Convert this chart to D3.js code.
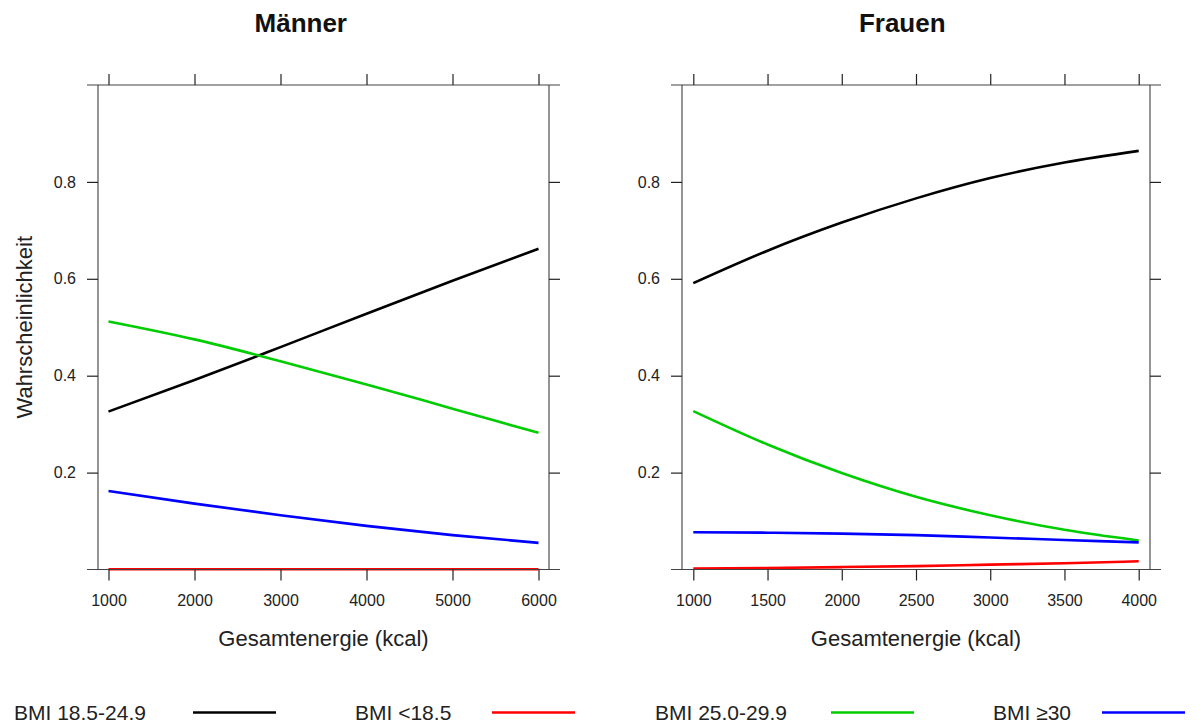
<!DOCTYPE html>
<html><head><meta charset="utf-8">
<script src="https://cdn.jsdelivr.net/npm/d3@7"></script>
<style>body{margin:0;background:#fff;} svg{font-family:"Liberation Sans",Arial,sans-serif;}</style>
</head><body>
<svg id="c" width="1203" height="727"></svg>
<script>
// ---- data ----
const panelTitles = ["Männer", "Frauen"];
const seriesNames = ["BMI 18.5-24.9", "BMI <18.5", "BMI 25.0-29.9", "BMI \u226530"];
const seriesColors = ["#000000", "#ff0000", "#00cd00", "#0000ff"];

const menX = [1000, 2000, 3000, 4000, 5000, 6000];
const menNormal = [0.326, 0.391, 0.459, 0.528, 0.596, 0.662];
const menUnder = [0.0005, 0.0005, 0.0005, 0.0005, 0.0005, 0.0005];
const menOver = [0.512, 0.475, 0.430, 0.382, 0.332, 0.282];
const menObese = [0.162, 0.136, 0.112, 0.090, 0.071, 0.055];

const womenX = [1000, 1500, 2000, 2500, 3000, 3500, 4000];
const womenNormal = [0.591, 0.658, 0.716, 0.766, 0.808, 0.840, 0.864];
const womenUnder = [0.002, 0.003, 0.005, 0.007, 0.010, 0.013, 0.017];
const womenOver = [0.327, 0.258, 0.199, 0.150, 0.112, 0.082, 0.060];
const womenObese = [0.077, 0.076, 0.074, 0.071, 0.066, 0.061, 0.056];

const menTicks = [1000, 2000, 3000, 4000, 5000, 6000];
const womenTicks = [1000, 1500, 2000, 2500, 3000, 3500, 4000];
const yTicks = [0.2, 0.4, 0.6, 0.8];
const xLabel = "Gesamtenergie (kcal)";
const yLabel = "Wahrscheinlichkeit";

// ---- layout ----
const W = 1203;
const svg = d3.select("#c");
const yTop = 85, yBottom = 569.5;
const panels = [
  {title: panelTitles[0], x: menX, series: [menNormal, menUnder, menOver, menObese], ticks: menTicks,
   left: 98, right: 549, dom: [1000, 6000], r0: 108.5, r1: 538.5, tx: W / 4},
  {title: panelTitles[1], x: womenX, series: [womenNormal, womenUnder, womenOver, womenObese], ticks: womenTicks,
   left: 682, right: 1150, dom: [1000, 4000], r0: 693.3, r1: 1138.7, tx: W * 3 / 4}
];
const y = d3.scaleLinear().domain([0, 1]).range([yBottom, yTop]);

panels.forEach((p, pi) => {
  const x = d3.scaleLinear().domain(p.dom).range([p.r0, p.r1]);
  const g = svg.append("g");
  const cx = (p.left + p.right) / 2;
  // series
  const line = d3.line().x((d, i) => x(p.x[i])).y(d => y(d)).curve(d3.curveMonotoneX);
  p.series.forEach((s, si) => {
    g.append("path").attr("d", line(s)).attr("fill", "none")
      .attr("stroke", seriesColors[si]).attr("stroke-width", 2.6);
  });
  // frame: vertical gray, horizontal dark
  [p.left, p.right].forEach(xx => g.append("line").attr("x1", xx).attr("x2", xx).attr("y1", yTop).attr("y2", yBottom)
    .attr("stroke", "#7a7a7a").attr("stroke-width", 1.6));
  [yTop, yBottom].forEach(yy => g.append("line").attr("x1", p.left - 11).attr("x2", p.right + 11).attr("y1", yy).attr("y2", yy)
    .attr("stroke", "#444").attr("stroke-width", 1.2));
  // x axes
  const xb = g.append("g").attr("transform", `translate(0,${yBottom})`)
    .call(d3.axisBottom(x).tickValues(p.ticks).tickSize(11).tickPadding(14.5).tickFormat(d3.format("d")));
  const xt = g.append("g").attr("transform", `translate(0,${yTop})`)
    .call(d3.axisTop(x).tickValues(p.ticks).tickSize(11).tickFormat(""));
  // y axes
  const yl = g.append("g").attr("transform", `translate(${p.left},0)`)
    .call(d3.axisLeft(y).tickValues(yTicks).tickSize(11).tickPadding(11).tickFormat(d3.format(".1f")));
  const yr = g.append("g").attr("transform", `translate(${p.right},0)`)
    .call(d3.axisRight(y).tickValues(yTicks).tickSize(11).tickFormat(""));
  [xb, xt, yl, yr].forEach(a => {
    a.select(".domain").remove();
    a.selectAll(".tick line").attr("stroke", "#222").attr("stroke-width", 1.2);
    a.selectAll("text").attr("font-size", 16).attr("fill", "#222").attr("font-family", "Liberation Sans, Arial, sans-serif");
  });
  // titles
  g.append("text").attr("x", p.tx).attr("y", 31.5).attr("text-anchor", "middle")
    .attr("font-size", 26).attr("font-weight", "bold").attr("fill", "#111").text(p.title);
  g.append("text").attr("x", cx).attr("y", 646).attr("text-anchor", "middle")
    .attr("font-size", 22).attr("fill", "#222").text(xLabel);
  if (pi === 0) {
    g.append("text").attr("transform", `translate(32,${(yTop + yBottom) / 2}) rotate(-90)`)
      .attr("text-anchor", "middle").attr("font-size", 22).attr("fill", "#222").text(yLabel);
  }
});

// legend
const legTextX = [14, 355, 655, 993];
const legLineX = [193, 492, 831, 1102];
const legY = 712.5;
seriesNames.forEach((n, i) => {
  svg.append("text").attr("x", legTextX[i]).attr("y", legY + 7).attr("font-size", 21).attr("fill", "#222").text(n);
  svg.append("line").attr("x1", legLineX[i]).attr("x2", legLineX[i] + 83).attr("y1", legY).attr("y2", legY)
    .attr("stroke", seriesColors[i]).attr("stroke-width", 2.6);
});
</script>
</body></html>
